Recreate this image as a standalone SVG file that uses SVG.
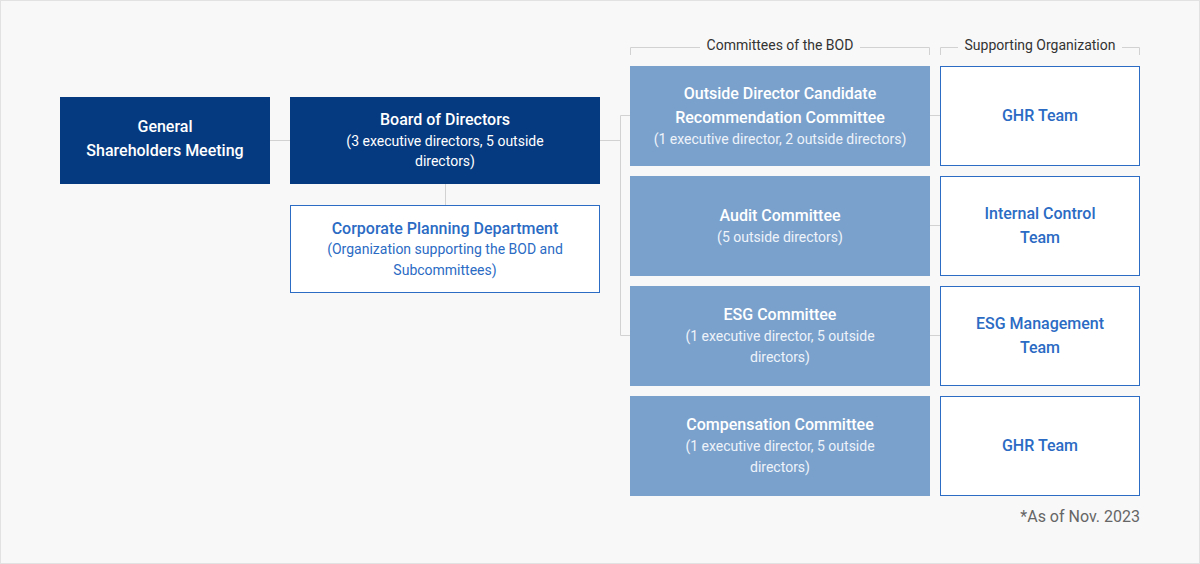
<svg xmlns="http://www.w3.org/2000/svg" width="1200" height="564" viewBox="0 0 1200 564">
<style>
text{font-family:Roboto,"Noto Sans","Liberation Sans",sans-serif;text-anchor:middle}
.t{font-size:16px;font-weight:500}
.s{font-size:14px;font-weight:400}
.dark{fill:#063a80}
.com{fill:#7aa1cc}
.wb{fill:#ffffff;stroke:#2d6cc4;stroke-width:1}
.w{fill:#ffffff}
.wsub{fill:#eef3fa}
.b{fill:#2b6bc4}
.ln{stroke:#d2d2d2;stroke-width:1;fill:none}
.hd{font-size:14px;fill:#333333}
</style>
<rect x="0.5" y="0.5" width="1199" height="563" fill="#f8f8f8" stroke="#e2e2e2"/>
<g id="connectors">
<path class="ln" d="M270 140.5H290"/>
<path class="ln" d="M600 140.5H620.5"/>
<path class="ln" d="M630 115.5H620.5V335.5H630"/>
<path class="ln" d="M445.5 184V205"/>
<path class="ln" d="M930 115.5H940M930 225.5H940M930 335.5H940"/>
</g>
<g id="headers">
<path class="ln" d="M630.5 55V47.5H700M860 47.5H929.5V55"/>
<text class="hd" x="780" y="50">Committees of the BOD</text>
<path class="ln" d="M940.5 55V47.5H958M1122 47.5H1139.5V55"/>
<text class="hd" x="1040" y="50">Supporting Organization</text>
</g>
<g id="gsm">
<rect class="dark" x="60" y="97" width="210" height="87"/>
<text class="t w" x="165" y="132">General</text>
<text class="t w" x="165" y="156">Shareholders Meeting</text>
</g>
<g id="bod">
<rect class="dark" x="290" y="97" width="310" height="87"/>
<text class="t w" x="445" y="125">Board of Directors</text>
<text class="s w" x="445" y="146">(3 executive directors, 5 outside</text>
<text class="s w" x="445" y="166">directors)</text>
</g>
<g id="cpd">
<rect class="wb" x="290.5" y="205.5" width="309" height="87"/>
<text class="t b" x="445" y="234">Corporate Planning Department</text>
<text class="s b" x="445" y="254">(Organization supporting the BOD and</text>
<text class="s b" x="445" y="275">Subcommittees)</text>
</g>
<g id="odcrc">
<rect class="com" x="630" y="66" width="300" height="100"/>
<text class="t w" x="780" y="99">Outside Director Candidate</text>
<text class="t w" x="780" y="123">Recommendation Committee</text>
<text class="s wsub" x="780" y="144">(1 executive director, 2 outside directors)</text>
</g>
<g id="audit">
<rect class="com" x="630" y="176" width="300" height="100"/>
<text class="t w" x="780" y="221">Audit Committee</text>
<text class="s wsub" x="780" y="242">(5 outside directors)</text>
</g>
<g id="esg">
<rect class="com" x="630" y="286" width="300" height="100"/>
<text class="t w" x="780" y="320">ESG Committee</text>
<text class="s wsub" x="780" y="341">(1 executive director, 5 outside</text>
<text class="s wsub" x="780" y="362">directors)</text>
</g>
<g id="comp">
<rect class="com" x="630" y="396" width="300" height="100"/>
<text class="t w" x="780" y="430">Compensation Committee</text>
<text class="s wsub" x="780" y="451">(1 executive director, 5 outside</text>
<text class="s wsub" x="780" y="472">directors)</text>
</g>
<g id="ghr1">
<rect class="wb" x="940.5" y="66.5" width="199" height="99"/>
<text class="t b" x="1040" y="121">GHR Team</text>
</g>
<g id="ict">
<rect class="wb" x="940.5" y="176.5" width="199" height="99"/>
<text class="t b" x="1040" y="219">Internal Control</text>
<text class="t b" x="1040" y="243">Team</text>
</g>
<g id="esgt">
<rect class="wb" x="940.5" y="286.5" width="199" height="99"/>
<text class="t b" x="1040" y="329">ESG Management</text>
<text class="t b" x="1040" y="353">Team</text>
</g>
<g id="ghr2">
<rect class="wb" x="940.5" y="396.5" width="199" height="99"/>
<text class="t b" x="1040" y="451">GHR Team</text>
</g>
<text x="1140" y="522" style="text-anchor:end;font-size:16px;fill:#666666">*As of Nov. 2023</text>
</svg>
